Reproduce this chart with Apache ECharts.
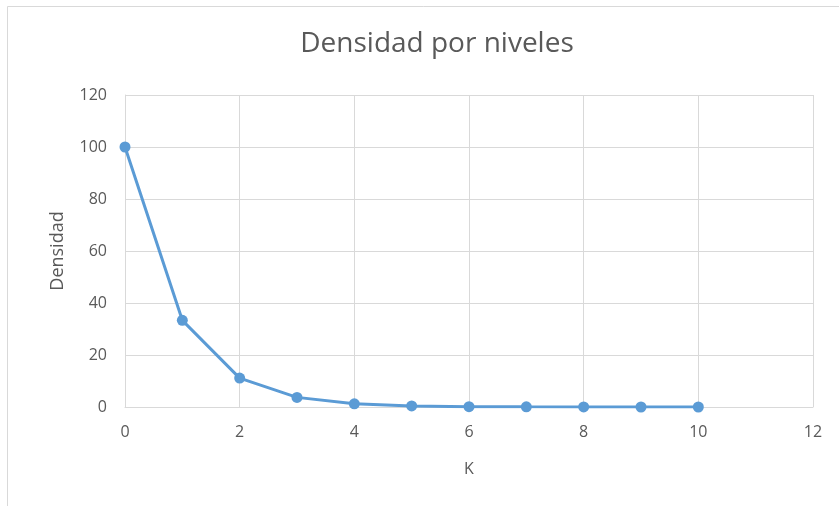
<!DOCTYPE html>
<html>
<head>
<meta charset="utf-8">
<script src="https://cdn.jsdelivr.net/npm/echarts@6/dist/echarts.min.js"></script>
<style>
html,body{margin:0;padding:0;background:#fff;}
#chart{width:839px;height:506px;}
</style>
</head>
<body>
<div id="chart"></div>
<script>
// Density per level K
const kValues = [0, 1, 2, 3, 4, 5, 6, 7, 8, 9, 10];
const densidad = [100, 33.33, 11.11, 3.70, 1.23, 0.41, 0.14, 0.05, 0.02, 0.005, 0.002];

const points = kValues.map((k, i) => [k, densidad[i]]);
const textColor = '#595959';
const fontFam = '"Open Sans", sans-serif';

const chart = echarts.init(document.getElementById('chart'));
chart.setOption({
  backgroundColor: '#ffffff',
  animation: false,
  graphic: [{
    type: 'rect',
    shape: { x: 7.5, y: 6.5, width: 900, height: 600 },
    style: { fill: 'none', stroke: '#d9d9d9', lineWidth: 1 },
    silent: true
  }],
  title: {
    text: 'Densidad por niveles',
    left: 432,
    textAlign: 'center',
    top: 25,
    textStyle: { color: textColor, fontSize: 28, fontWeight: 'normal', fontFamily: fontFam }
  },
  grid: { left: 125, right: 26, top: 95, bottom: 99 },
  xAxis: {
    type: 'value',
    min: 0, max: 12, interval: 2,
    name: 'K',
    nameLocation: 'middle',
    nameGap: 54,
    nameTextStyle: { color: textColor, fontSize: 16, fontFamily: fontFam },
    axisLine: { show: true, lineStyle: { color: '#d9d9d9' } },
    axisTick: { show: false },
    axisLabel: { color: textColor, fontSize: 16, margin: 17, fontFamily: fontFam },
    splitLine: { show: true, lineStyle: { color: '#d9d9d9' } }
  },
  yAxis: {
    type: 'value',
    min: 0, max: 120, interval: 20,
    name: 'Densidad',
    nameLocation: 'middle',
    nameRotate: 90,
    nameGap: 58,
    nameTextStyle: { color: textColor, fontSize: 18, fontFamily: fontFam },
    axisLine: { show: true, lineStyle: { color: '#d9d9d9' } },
    axisTick: { show: false },
    axisLabel: { color: textColor, fontSize: 16, margin: 18, fontFamily: fontFam },
    splitLine: { show: true, lineStyle: { color: '#d9d9d9' } }
  },
  series: [{
    type: 'line',
    data: points,
    symbol: 'circle',
    symbolSize: 11,
    itemStyle: { color: '#5b9bd5' },
    lineStyle: { color: '#5b9bd5', width: 3 }
  }]
});
</script>
</body>
</html>
